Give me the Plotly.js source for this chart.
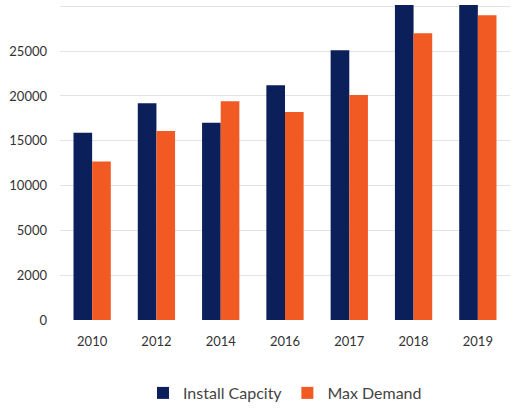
<!DOCTYPE html>
<html>
<head>
<script src="https://cdn.plot.ly/plotly-3.0.1.min.js"></script>
<style>body{margin:0}#graph{width:515px;height:410px}</style>
</head>
<body>
<div id="graph"></div>
<script>
// Years on the x axis
let years = ["2010", "2012", "2014", "2016", "2017", "2018", "2019"];
// Series
let installCapacity = [15900, 19200, 17000, 21200, 25100, 30500, 30500];
let maxDemand = [12700, 16100, 19400, 18200, 20100, 27000, 29000];
// The y axis labels are evenly spaced, though the values are not
let tickValues = [0, 2000, 5000, 10000, 15000, 20000, 25000, 30000];

// Maps a value onto the evenly spaced tick positions
function toPos(v) {
    for (let i = 1; i < tickValues.length; i++) {
        if (v <= tickValues[i]) {
            return i - 1 + (v - tickValues[i - 1]) / (tickValues[i] - tickValues[i - 1]);
        }
    }
    let n = tickValues.length - 1;
    return n + (v - tickValues[n]) / (tickValues[n] - tickValues[n - 1]);
}

let graph = document.getElementById("graph");
Plotly.newPlot(graph, [
    {type: "bar", name: "Install Capcity", x: years, y: installCapacity.map(toPos),
     customdata: installCapacity, hovertemplate: "%{customdata}", marker: {color: "#0b1f5b"}},
    {type: "bar", name: "Max Demand", x: years, y: maxDemand.map(toPos),
     customdata: maxDemand, hovertemplate: "%{customdata}", marker: {color: "#f15a22"}}
], {
    width: 515, height: 410,
    margin: {l: 60, r: 5, t: 5, b: 90, autoexpand: false},
    font: {family: "Lato, 'Open Sans', sans-serif", size: 13, color: "#333"},
    bargap: 0.42, bargroupgap: 0,
    xaxis: {type: "category", showgrid: false, ticks: "", tickfont: {size: 13},
            ticklabelstandoff: 12},
    yaxis: {range: [0, 7.03], tickvals: tickValues.map((v, i) => i),
            ticktext: tickValues.map(String), gridcolor: "#e3e3e3", zeroline: false,
            tickfont: {size: 13}, ticklabelstandoff: 12},
    legend: {orientation: "h", x: 0.5, xanchor: "center", yref: "container", y: 0.0,
             yanchor: "bottom", font: {size: 16, color: "#444"}, traceorder: "normal"},
    showlegend: true,
    plot_bgcolor: "#fff", paper_bgcolor: "#fff"
}, {displayModeBar: false});
</script>
</body>
</html>
